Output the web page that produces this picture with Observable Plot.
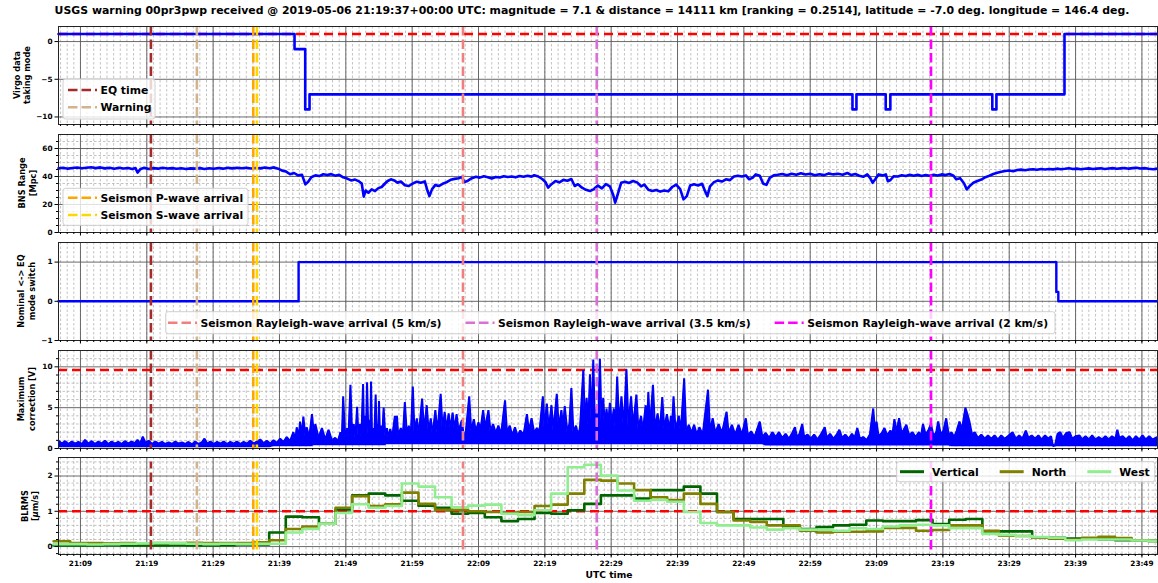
<!DOCTYPE html>
<html><head><meta charset="utf-8">
<script src="https://cdn.jsdelivr.net/npm/d3@7"></script>
<script src="https://cdn.jsdelivr.net/npm/@observablehq/plot@0.6"></script>
<style>
body{margin:0;background:#fff;}
#chart{width:1158px;height:583px;position:relative;font-family:"DejaVu Sans",sans-serif;overflow:hidden;}
#title{position:absolute;top:4px;left:592px;transform:translateX(-50%);white-space:nowrap;font-weight:bold;font-size:11px;color:#000;}
#chart svg{display:block;position:absolute;left:0;}
</style></head><body>
<div id="chart"><div id="title">USGS warning 00pr3pwp received @ 2019-05-06 21:19:37+00:00 UTC: magnitude = 7.1 &amp; distance = 14111 km [ranking = 0.2514], latitude = -7.0 deg. longitude = 146.4 deg.</div></div>
<script>
// ---------- DATA (time in minutes after 2019-05-06 21:00 UTC) ----------
const xRange = [5.69, 171.35];
const xTickLabels = ["21:09","21:19","21:29","21:39","21:49","21:59","22:09","22:19","22:29","22:39","22:49","22:59","23:09","23:19","23:29","23:39","23:49"];

const eventNames = ["EQ time","Warning","Seismon P-wave arrival","Seismon S-wave arrival","Seismon Rayleigh-wave arrival (5 km/s)","Seismon Rayleigh-wave arrival (3.5 km/s)","Seismon Rayleigh-wave arrival (2 km/s)"];
const eventTimes = [19.62, 26.55, 35.05, 35.6, 66.66, 86.82, 137.21];
const eventColors = ["#a52a2a","#d2b48c","#ffa500","#ffd700","#f08080","#da70d6","#ff00ff"];

// Virgo data taking mode (step)
const modeTime  = [5.69, 41.27, 42.88, 43.53, 125.37, 125.97, 130.38, 131.08, 146.45, 147.07, 157.33, 171.35];
const modeValue = [1, -1, -9, -7, -9, -7, -9, -7, -9, -7, 1, 1];
const modeThreshold = 1;

// BNS range [Mpc]
const bnsRange = [
[5.7,45.8],[6.4,46.2],[7.1,45.6],[7.8,46.1],[8.5,46.4],[9.2,45.9],[9.9,46.3],[10.6,46.6],[11.3,46.0],[12.0,46.5],[12.7,45.8],[13.4,46.2],[14.1,45.6],[14.8,46.3],[15.5,45.7],[16.2,46.1],[16.8,45.3],[17.3,46.0],[17.6,42.8],[18.0,45.2],[18.6,46.3],[19.3,45.4],[20.0,46.0],[20.7,45.6],[21.4,46.2],[22.1,45.7],[22.8,46.0],[23.5,45.5],[24.2,45.9],[24.9,45.4],[25.6,45.8],[26.3,45.6],[27.0,46.0],[27.7,45.4],[28.4,45.9],[29.1,45.5],[29.8,46.1],[30.5,45.6],[31.2,46.2],[31.9,45.8],[32.6,46.3],[33.3,45.9],[34.0,46.2],[34.7,45.7],[35.4,46.1],[36.1,45.8],[36.8,46.4],[37.5,45.9],[38.2,46.5],[38.8,45.6],[39.4,44.2],[40.0,43.5],[40.6,41.6],[41.2,42.5],[41.8,40.8],[42.4,41.2],[42.9,34.4],[43.3,36.0],[43.8,39.5],[44.4,40.8],[45.0,40.3],[45.6,41.6],[46.2,41.0],[46.8,41.7],[47.4,40.6],[48.0,41.2],[48.6,39.4],[49.2,38.5],[49.8,37.2],[50.4,37.8],[51.0,36.5],[51.4,35.0],[51.7,25.6],[52.0,30.0],[52.4,28.4],[52.9,30.8],[53.4,29.6],[53.9,31.7],[54.4,32.5],[54.9,35.0],[55.3,36.8],[55.8,38.0],[56.3,37.2],[56.8,35.5],[57.3,36.4],[57.9,33.8],[58.5,33.2],[59.1,35.0],[59.7,36.3],[60.3,35.6],[60.9,36.5],[61.3,30.0],[61.6,26.0],[62.0,31.0],[62.5,34.0],[63.0,33.2],[63.6,34.8],[64.2,36.0],[64.8,37.6],[65.4,38.3],[66.0,38.8],[66.5,39.6],[66.9,36.0],[67.4,37.0],[68.0,38.8],[68.6,39.8],[69.2,39.2],[69.8,40.2],[70.4,39.5],[71.0,38.6],[71.6,39.7],[72.2,39.3],[72.8,40.2],[73.4,39.6],[74.0,40.0],[74.6,39.4],[75.2,40.3],[75.8,39.8],[76.4,40.5],[77.0,39.9],[77.4,40.9],[78.0,40.0],[78.6,38.2],[79.1,36.0],[79.5,32.0],[80.0,34.5],[80.6,36.8],[81.2,35.8],[81.8,37.6],[82.4,37.0],[83.0,38.2],[83.5,33.2],[84.0,34.5],[84.6,32.0],[85.2,30.5],[85.8,29.6],[86.4,31.0],[87.0,33.5],[87.6,31.5],[88.2,34.5],[88.8,33.0],[89.3,27.0],[89.6,21.3],[90.0,27.5],[90.5,35.5],[91.1,36.2],[91.7,35.4],[92.3,36.8],[92.9,35.8],[93.5,33.0],[94.0,34.2],[94.6,30.5],[95.2,29.6],[95.8,30.4],[96.4,29.2],[97.0,30.0],[97.6,29.4],[98.2,32.5],[98.8,34.2],[99.4,31.0],[99.9,23.7],[100.4,26.0],[100.9,33.5],[101.5,34.5],[102.1,33.6],[102.7,34.8],[103.2,29.0],[103.5,26.0],[103.9,33.0],[104.5,36.0],[105.1,37.2],[105.7,36.4],[106.3,38.0],[106.9,37.4],[107.5,40.0],[108.1,40.6],[108.7,40.0],[109.3,40.8],[109.8,38.0],[110.3,39.0],[110.8,41.5],[111.4,40.5],[111.9,35.0],[112.4,34.0],[112.9,39.0],[113.5,40.8],[114.1,41.2],[114.8,41.8],[115.5,40.9],[116.2,42.0],[116.9,41.2],[117.6,42.3],[118.3,41.4],[119.0,42.0],[119.7,40.9],[120.4,41.6],[121.1,41.0],[121.8,42.2],[122.5,41.5],[123.2,42.0],[123.9,41.3],[124.6,42.5],[125.2,41.0],[125.8,41.8],[126.4,40.5],[127.0,39.8],[127.6,41.5],[128.1,38.5],[128.4,35.5],[128.8,38.0],[129.3,41.5],[129.9,40.8],[130.4,41.5],[130.7,36.6],[131.1,37.5],[131.6,40.2],[132.2,40.0],[132.8,40.9],[133.4,40.3],[134.0,41.2],[134.6,40.5],[135.2,41.3],[135.8,40.4],[136.4,41.0],[137.0,40.5],[137.6,41.2],[138.2,40.7],[138.8,41.5],[139.4,41.0],[140.0,41.8],[140.6,40.5],[141.0,38.0],[141.6,38.8],[142.2,35.0],[142.6,30.8],[143.0,33.0],[143.6,35.5],[144.2,36.8],[144.8,37.8],[145.4,39.5],[146.0,40.5],[146.6,41.8],[147.2,42.6],[147.8,43.4],[148.4,43.9],[149.0,44.3],[149.6,43.8],[150.2,44.6],[150.8,44.9],[151.4,44.5],[152.0,45.0],[152.6,45.2],[153.2,44.8],[153.8,45.3],[154.4,45.0],[155.0,45.4],[155.6,45.1],[156.2,45.6],[156.8,45.2],[157.4,45.5],[158.0,45.9],[158.6,45.3],[159.2,45.6],[159.8,45.2],[160.4,45.5],[161.0,45.8],[161.6,45.3],[162.2,45.6],[162.8,45.9],[163.4,45.4],[164.0,45.7],[164.6,46.0],[165.2,45.5],[165.8,45.8],[166.4,46.1],[167.0,45.6],[167.6,46.0],[168.2,46.3],[168.8,45.7],[169.4,46.0],[170.0,45.5],[170.7,45.2],[171.35,45.6]];

// Nominal <-> EQ mode switch (step)
const switchTime  = [5.69, 41.88, 156.1, 156.4, 171.35];
const switchValue = [0, 1, 0.24, 0, 0];

// Maximum correction [V]: top envelope and lower edge
const corrEnvelope = [
[5.7,0.95],[6.2,0.6],[6.7,0.9],[7.2,0.55],[7.7,0.85],[8.2,0.6],[8.7,0.8],[9.2,0.55],[9.7,1.05],[10.2,0.6],[10.7,0.9],[11.2,0.55],[11.7,0.85],[12.2,0.6],[12.7,0.95],[13.2,0.55],[13.7,0.85],[14.2,0.6],[14.7,0.8],[15.2,0.55],[15.7,0.9],[16.2,0.6],[16.7,0.85],[17.2,0.65],[17.6,1.05],[18.0,0.6],[18.4,1.45],[18.8,0.7],[19.3,0.95],[19.8,0.55],[20.3,0.85],[20.8,0.6],[21.3,0.8],[21.8,0.55],[22.3,0.75],[22.8,0.55],[23.3,0.85],[23.8,0.6],[24.3,0.75],[24.8,0.55],[25.3,0.8],[25.8,0.5],[26.3,0.85],[26.8,0.55],[27.3,0.75],[27.7,1.2],[28.1,0.6],[28.6,0.85],[29.1,0.55],[29.6,0.8],[30.1,0.6],[30.6,0.85],[31.1,0.55],[31.6,0.8],[32.1,0.6],[32.6,0.85],[33.1,0.55],[33.6,0.8],[34.1,0.6],[34.6,0.95],[35.1,0.6],[35.6,0.85],[36.1,1.1],[36.6,0.65],[37.1,0.95],[37.6,0.6],[38.1,1.0],[38.6,0.7],[39.1,1.2],[39.6,0.8],[40.1,1.4],[40.6,0.9],[41.1,2.0],[41.4,1.1],[41.6,2.6],[41.9,1.3],[42.1,3.3],[42.4,1.6],[42.6,3.9],[42.9,1.5],[43.1,2.6],[43.5,1.4],[43.9,4.2],[44.2,1.6],[44.4,3.0],[44.9,1.3],[45.4,2.5],[45.9,1.1],[46.4,2.3],[46.9,1.0],[47.4,1.3],[47.8,0.9],[48.2,2.0],[48.4,1.1],[48.6,6.4],[48.9,1.3],[49.2,2.5],[49.4,1.4],[49.7,7.8],[49.95,1.6],[50.2,3.0],[50.45,1.3],[50.7,5.1],[50.9,1.6],[51.1,3.0],[51.35,1.5],[51.6,7.9],[51.75,2.0],[51.9,4.0],[52.05,2.0],[52.2,8.1],[52.4,1.8],[52.6,3.5],[52.7,2.0],[52.8,8.2],[52.95,1.8],[53.1,2.5],[53.3,1.6],[53.5,6.6],[53.65,1.7],[53.8,3.0],[53.9,1.9],[54.0,5.8],[54.15,1.6],[54.3,2.8],[54.5,1.6],[54.7,5.0],[54.95,1.5],[55.2,2.5],[55.45,1.3],[55.7,2.4],[56.0,1.4],[56.4,4.0],[56.55,1.6],[56.7,4.0],[56.9,1.6],[57.3,2.5],[57.6,1.5],[57.9,5.7],[58.2,1.7],[58.5,2.8],[58.8,1.6],[59.1,7.6],[59.35,1.9],[59.7,3.7],[60.0,1.7],[60.5,6.1],[60.8,2.1],[61.2,5.3],[61.5,1.9],[61.8,3.7],[62.1,1.7],[62.5,4.7],[62.8,1.9],[63.3,6.7],[63.6,2.1],[63.9,4.5],[64.2,2.3],[64.5,4.3],[64.8,2.4],[65.1,4.4],[65.4,2.3],[65.7,4.2],[66.0,2.1],[66.5,3.5],[66.8,1.3],[67.1,2.1],[67.6,6.4],[67.9,2.1],[68.3,3.6],[68.6,2.1],[69.0,3.2],[69.3,2.3],[69.7,4.7],[70.0,2.5],[70.5,4.7],[70.8,2.1],[71.2,3.0],[71.6,1.9],[72.0,2.8],[72.4,1.7],[73.0,5.9],[73.3,1.9],[73.7,2.8],[74.1,1.6],[74.5,2.6],[74.9,1.5],[75.3,2.2],[75.8,1.7],[76.3,4.2],[76.6,2.1],[77.0,3.7],[77.4,1.9],[77.8,2.5],[78.2,2.1],[78.7,6.4],[78.95,2.5],[79.3,5.5],[79.6,2.4],[80.0,5.3],[80.3,2.2],[80.8,6.7],[81.1,2.5],[81.5,4.7],[81.75,2.6],[82.0,5.2],[82.4,2.0],[82.7,3.0],[83.0,7.4],[83.3,2.0],[83.7,2.8],[84.0,1.6],[84.3,2.5],[84.8,9.6],[85.05,2.6],[85.3,6.2],[85.55,2.8],[85.8,9.1],[86.05,3.0],[86.3,10.9],[86.55,3.0],[86.8,4.9],[87.05,2.8],[87.3,11.0],[87.55,3.0],[87.8,6.2],[88.05,2.6],[88.3,4.9],[88.55,2.8],[88.8,5.6],[89.1,3.0],[89.4,4.9],[89.65,2.6],[89.9,8.8],[90.2,2.8],[90.55,6.4],[90.9,2.6],[91.3,9.7],[91.6,2.8],[92.0,6.4],[92.3,2.6],[92.8,6.6],[93.1,2.4],[93.5,4.0],[93.8,2.2],[94.2,5.3],[94.4,2.4],[94.6,6.9],[94.85,2.6],[95.3,7.8],[95.6,2.4],[96.0,4.3],[96.35,2.2],[96.7,6.3],[97.0,2.4],[97.4,4.2],[97.8,2.2],[98.0,4.0],[98.15,2.2],[98.4,6.4],[98.7,2.2],[99.2,4.0],[99.5,2.0],[100.0,8.6],[100.3,2.0],[100.7,2.9],[101.1,1.9],[101.5,2.9],[101.9,1.7],[102.3,2.6],[102.8,1.7],[103.6,7.2],[103.9,2.0],[104.3,3.7],[104.7,1.9],[105.2,3.0],[105.7,1.9],[106.4,4.5],[106.7,1.9],[107.2,2.9],[107.7,1.7],[108.2,2.9],[108.7,1.7],[109.3,3.7],[109.6,1.6],[110.1,2.1],[110.6,1.4],[111.4,3.3],[111.8,1.4],[112.3,1.9],[112.8,1.3],[113.3,2.0],[113.8,1.4],[114.3,2.0],[114.8,1.3],[115.3,1.8],[115.8,1.2],[116.3,1.9],[116.7,2.6],[117.0,1.4],[117.4,1.8],[117.8,3.0],[118.1,1.4],[118.6,1.7],[119.1,1.2],[119.6,1.7],[120.1,1.1],[120.6,1.7],[121.2,2.6],[121.5,1.3],[122.0,1.8],[122.5,1.2],[123.0,1.7],[123.4,2.3],[123.8,1.3],[124.3,1.7],[124.8,1.2],[125.3,1.8],[125.7,1.3],[126.1,2.5],[126.5,1.2],[127.0,1.4],[127.5,1.0],[128.0,1.7],[128.5,4.9],[128.8,1.8],[129.0,3.3],[129.3,1.5],[129.8,1.9],[130.2,2.5],[130.6,1.6],[131.1,2.2],[131.4,1.7],[131.7,3.6],[132.0,2.0],[132.4,3.7],[132.8,1.8],[133.1,2.3],[133.5,2.9],[133.9,1.6],[134.4,2.0],[134.9,1.4],[135.4,2.0],[135.7,1.5],[136.0,3.0],[136.4,1.7],[136.8,2.2],[137.2,3.0],[137.6,1.5],[138.0,2.0],[138.3,3.3],[138.7,1.7],[139.1,2.2],[139.5,3.7],[139.9,1.6],[140.3,2.0],[140.7,1.4],[141.1,2.2],[141.5,3.3],[141.9,2.4],[142.2,4.0],[142.4,5.0],[142.7,4.2],[143.0,3.3],[143.4,1.7],[143.8,2.0],[144.3,1.3],[144.8,1.7],[145.3,1.2],[145.8,1.6],[146.3,1.2],[146.8,1.6],[147.3,1.1],[147.8,1.6],[148.3,1.2],[148.8,1.5],[149.5,2.0],[150.0,1.2],[150.5,1.6],[151.0,1.2],[151.5,2.2],[151.9,1.3],[152.4,1.6],[152.9,1.2],[153.4,1.6],[153.9,1.1],[154.4,1.6],[154.9,1.2],[155.3,1.5],[155.6,0.3],[155.9,0.4],[156.3,1.8],[156.7,2.0],[157.1,1.3],[157.6,1.9],[158.1,2.0],[158.5,1.2],[159.0,1.5],[159.6,1.6],[160.0,1.1],[160.5,1.5],[161.0,1.1],[161.5,1.6],[162.0,1.1],[162.5,1.4],[163.0,1.1],[163.5,1.5],[164.0,1.1],[164.5,1.5],[165.0,1.2],[165.3,2.3],[165.6,1.3],[166.1,1.5],[166.6,1.1],[167.1,1.5],[167.6,1.0],[168.1,1.5],[168.6,1.1],[169.1,1.6],[169.6,1.1],[170.1,1.5],[170.6,1.1],[171.35,1.4]];
const corrLowTime  = [5.69, 38, 44, 55, 112, 140];
const corrLowValue = [0.1, 0.2, 0.35, 0.45, 0.3, 0.2];
const corrThreshold = 9.6;

// BLRMS [um/s], one value per 2.5-minute interval
const blrmsStart = 4.95, blrmsStep = 2.5;
const blrmsVertical = [0.03,0.03,0.03,0.04,0.03,0.03,0.03,0.04,0.03,0.03,0.04,0.05,0.06,
 0.40,0.85,0.83,0.65,1.05,1.45,1.50,1.45,
 1.30,1.16,1.10,0.93,0.95,0.83,0.72,0.78,0.95,0.93,
 1.03,1.21,1.45,1.45,1.36,1.60,1.60,1.70,1.50,0.98,
 0.78,0.78,0.78,0.55,0.50,0.55,0.60,0.62,0.74,0.72,
 0.72,0.75,0.64,0.76,0.78,0.43,0.43,0.43,0.25,0.25,
 0.23,0.22,0.20,0.18,0.17,0.16];
const blrmsNorth = [0.15,0.10,0.10,0.09,0.10,0.09,0.10,0.10,0.11,0.10,0.10,0.10,0.12,
 0.18,0.50,0.57,0.65,1.10,1.43,1.15,1.20,
 1.53,1.21,1.04,1.04,1.00,0.98,0.95,0.98,1.15,1.19,
 1.50,1.89,1.87,1.79,1.60,1.40,1.32,1.50,1.21,0.98,
 0.74,0.70,0.60,0.60,0.45,0.40,0.42,0.42,0.43,0.53,
 0.53,0.45,0.47,0.60,0.60,0.45,0.31,0.30,0.25,0.22,
 0.20,0.25,0.28,0.24,0.18,0.16];
const blrmsWest = [0.07,0.07,0.06,0.07,0.08,0.09,0.10,0.09,0.08,0.07,0.08,0.07,0.08,
 0.08,0.40,0.50,0.65,0.95,1.20,1.10,1.15,
 1.79,1.70,1.40,1.11,1.16,1.19,0.93,0.89,1.03,1.50,
 2.25,2.32,2.01,1.59,1.30,1.32,1.27,0.98,0.67,0.60,
 0.60,0.54,0.48,0.52,0.48,0.48,0.45,0.52,0.50,0.57,
 0.60,0.62,0.60,0.52,0.52,0.36,0.33,0.30,0.27,0.25,
 0.18,0.20,0.20,0.20,0.17,0.16];
const blrmsNames = ["Vertical","North","West"];
const blrmsColors = ["#006400","#808000","#90ee90"];
const blrmsThreshold = 1;

// ---------- RENDERING ----------
const T0 = Date.UTC(2019,4,6,21,0,0);
const toDate = m => new Date(T0 + m*60000);
const parseHM = s => { const [h,mm] = s.split(":").map(Number); return toDate((h-21)*60 + mm); };
const xTicks = xTickLabels.map(parseHM);
const minorX = d3.utcMinute.range(toDate(6), toDate(xRange[1]));
const FONT = '"DejaVu Sans", sans-serif';
const BLUE = "#0000ff";
const fmtNum = d => d < 0 ? "\u2212" + Math.abs(d) : String(d);
const chart = document.getElementById("chart");

function eventMarks(y1, y2) {
  return eventTimes.map((t, i) => Plot.ruleX([toDate(t)], {
    stroke: eventColors[i], strokeWidth: 2.6, strokeDasharray: "9.5,4",
    ...(y1 !== undefined ? {y1, y2} : {})
  }));
}
function stepData(times, values) { return times.map((t, i) => ({t: toDate(t), v: values[i]})); }

function panel({top, height, marginTop = 1, marginBottom, yDomain, yTicks, yMinor = [], marks, showX = false}) {
  const svg = Plot.plot({
    width: 1158, height, marginLeft: 58, marginRight: 1, marginTop, marginBottom,
    style: {fontFamily: FONT, fontWeight: "bold", fontSize: "7.3px", color: "#000", background: "transparent", overflow: "visible"},
    x: {type: "utc", domain: xRange.map(toDate)},
    y: {domain: yDomain},
    marks: [
      Plot.ruleX(minorX, {stroke: "#b4b4b4", strokeWidth: 0.8, strokeDasharray: "2.5,2"}),
      Plot.ruleY(yMinor, {stroke: "#b4b4b4", strokeWidth: 0.8, strokeDasharray: "2.5,2"}),
      Plot.ruleX(xTicks, {stroke: "#5a5a5a", strokeWidth: 0.9}),
      Plot.ruleY(yTicks, {stroke: "#5a5a5a", strokeWidth: 0.9}),
      ...marks,
      Plot.frame({stroke: "#222", strokeWidth: 1}),
      Plot.axisY({ticks: yTicks, tickSize: 3.5, tickPadding: 2.5, tickFormat: fmtNum, label: null}),
      Plot.axisY({ticks: yMinor, tickSize: 2, tickFormat: () => "", label: null}),
      Plot.axisX({ticks: minorX, tickSize: 2, tickFormat: () => "", label: null}),
      Plot.axisX({ticks: xTicks, tickSize: 3.5, tickPadding: 3, tickFormat: showX ? d3.utcFormat("%H:%M") : () => "", label: null})
    ]
  });
  svg.style.top = top + "px";
  chart.appendChild(svg);
  return svg;
}

function yLabel(svg, lines, xs, cy) {
  const s = d3.select(svg);
  lines.forEach((ln, i) => {
    const t = s.append("text").attr("transform", `translate(${xs[i]},${cy}) rotate(-90)`)
      .attr("text-anchor", "middle").attr("dy", "0.35em")
      .attr("font-family", FONT).attr("font-weight", "bold").attr("font-size", "8.2px").attr("fill", "#000");
    if (Array.isArray(ln)) ln.forEach(p => t.append("tspan").attr("font-style", p.italic ? "italic" : null).text(p.text));
    else t.text(ln);
  });
}

function legend(svg, {x, y, w, h, items, vertical, rowY, rowGap = 17.3, lineStart, lineLen = 29, textGap = 3.5, colGap = 24}) {
  const s = d3.select(svg);
  const g = s.append("g").attr("text-anchor", "start");
  g.append("rect").attr("x", x).attr("y", y).attr("width", w).attr("height", h).attr("rx", 2.5)
    .attr("fill", "#fff").attr("fill-opacity", 0.8).attr("stroke", "#d0d0d0").attr("stroke-width", 1);
  let cx = lineStart;
  items.forEach((it, i) => {
    const yy = vertical ? rowY + i * rowGap : rowY;
    const lx = vertical ? lineStart : cx;
    g.append("line").attr("x1", lx).attr("x2", lx + lineLen).attr("y1", yy).attr("y2", yy)
      .attr("stroke", it.color).attr("stroke-width", it.dash ? 2.6 : 3).attr("stroke-dasharray", it.dash ? "9.5,4" : null);
    const t = g.append("text").attr("x", lx + lineLen + textGap).attr("y", yy).attr("dy", "0.36em")
      .attr("text-anchor", "start")
      .attr("font-family", FONT).attr("font-weight", "bold").attr("font-size", "10.8px").attr("fill", "#000").text(it.label);
    if (!vertical) cx = lx + lineLen + textGap + t.node().getComputedTextLength() + colGap;
  });
}

// Panel 1: Virgo data taking mode
const p1 = panel({top: 25, height: 108, marginBottom: 9, yDomain: [-11, 2], yTicks: [-10, -5, 0],
  marks: [
    Plot.ruleY([modeThreshold], {stroke: "#ff0000", strokeWidth: 2.5, strokeDasharray: "9,5"}),
    Plot.line(stepData(modeTime, modeValue), {x: "t", y: "v", curve: "step-after", stroke: BLUE, strokeWidth: 2.6}),
    ...eventMarks()
  ]});
yLabel(p1, ["Virgo data", "taking mode"], [16.8, 26.9], 50);
legend(p1, {x: 63, y: 54, w: 92, h: 40, vertical: true, rowY: 65, lineStart: 68,
  items: [{label: eventNames[0], color: eventColors[0], dash: true}, {label: eventNames[1], color: eventColors[1], dash: true}]});

// Panel 2: BNS range
const p2 = panel({top: 133, height: 108, marginBottom: 9, yDomain: [0, 70], yTicks: [0, 20, 40, 60],
  yMinor: [5, 10, 15, 25, 30, 35, 45, 50, 55, 65],
  marks: [
    Plot.line(bnsRange, {x: d => toDate(d[0]), y: d => d[1], stroke: BLUE, strokeWidth: 2.6}),
    ...eventMarks()
  ]});
yLabel(p2, ["BNS Range", "[Mpc]"], [22, 33.3], 50);
legend(p2, {x: 63, y: 55.3, w: 185, h: 37, vertical: true, rowY: 64.7, lineStart: 68,
  items: [{label: eventNames[2], color: eventColors[2], dash: true}, {label: eventNames[3], color: eventColors[3], dash: true}]});

// Panel 3: Nominal <-> EQ mode switch
const p3 = panel({top: 241, height: 108, marginBottom: 9, yDomain: [-1, 1.5], yTicks: [-1, 0, 1],
  marks: [
    Plot.line(stepData(switchTime, switchValue), {x: "t", y: "v", curve: "step-after", stroke: BLUE, strokeWidth: 2.4}),
    ...eventMarks()
  ]});
yLabel(p3, ["Nominal <-> EQ", "mode switch"], [20.7, 31.7], 50);
legend(p3, {x: 165.7, y: 70.7, w: 889.3, h: 22, vertical: false, rowY: 81.7, lineStart: 168,
  items: [4, 5, 6].map(i => ({label: eventNames[i], color: eventColors[i], dash: true}))});

// Panel 4: Maximum correction
const lowAt = m => { let v = corrLowValue[0]; corrLowTime.forEach((t, i) => { if (m >= t) v = corrLowValue[i]; }); return v; };
const p4 = panel({top: 349, height: 108, marginBottom: 9, yDomain: [0, 12], yTicks: [0, 5, 10],
  yMinor: [1, 2, 3, 4, 6, 7, 8, 9, 11],
  marks: [
    Plot.ruleY([corrThreshold], {stroke: "#ff0000", strokeWidth: 2.5, strokeDasharray: "9,5"}),
    Plot.areaY(corrEnvelope, {x: d => toDate(d[0]), y1: d => lowAt(d[0]), y2: d => d[1], fill: BLUE}),
    Plot.line(corrEnvelope, {x: d => toDate(d[0]), y: d => d[1], stroke: BLUE, strokeWidth: 2, strokeLinejoin: "miter"}),
    ...eventMarks()
  ]});
yLabel(p4, ["Maximum", "correction [V]"], [21.2, 32.2], 50);

// Panel 5: BLRMS
const blrmsRows = [];
[blrmsVertical, blrmsNorth, blrmsWest].forEach((arr, s) => {
  arr.forEach((v, k) => blrmsRows.push({s, t: toDate(blrmsStart + blrmsStep * k), v}));
  blrmsRows.push({s, t: toDate(blrmsStart + blrmsStep * arr.length), v: arr[arr.length - 1]});
});
const p5 = panel({top: 457, height: 126, marginTop: 0, marginBottom: 29, yDomain: [-0.225, 2.525], yTicks: [0, 1, 2],
  yMinor: [-0.2, 0.2, 0.4, 0.6, 0.8, 1.2, 1.4, 1.6, 1.8, 2.2, 2.4], showX: true,
  marks: [
    Plot.ruleY([blrmsThreshold], {stroke: "#ff0000", strokeWidth: 2.5, strokeDasharray: "9,5"}),
    ...blrmsColors.map((c, s) => Plot.line(blrmsRows.filter(d => d.s === s), {x: "t", y: "v", curve: "step-after", stroke: c, strokeWidth: 2.6})),
    ...eventMarks(-0.1, 2.4)
  ]});
yLabel(p5, ["BLRMS", [{text: "["}, {text: "\u03bc", italic: true}, {text: "m/s]"}]], [25, 35], 49);
d3.select(p5).append("text").attr("x", 609).attr("y", 118).attr("dy", "0.35em").attr("text-anchor", "middle")
  .attr("font-family", FONT).attr("font-weight", "bold").attr("font-size", "9.2px").attr("fill", "#000").text("UTC time");
legend(p5, {x: 896.7, y: 4.7, w: 258, h: 20, vertical: false, rowY: 14.7, lineStart: 900, lineLen: 24, textGap: 8, colGap: 21,
  items: blrmsNames.map((n, i) => ({label: n, color: blrmsColors[i], dash: false}))});

// Fit title width to reference (~1076 px)
const title = document.getElementById("title");
const tw = title.getBoundingClientRect().width;
title.style.fontSize = (11 * 1076 / tw).toFixed(2) + "px";
</script>
</body></html>
